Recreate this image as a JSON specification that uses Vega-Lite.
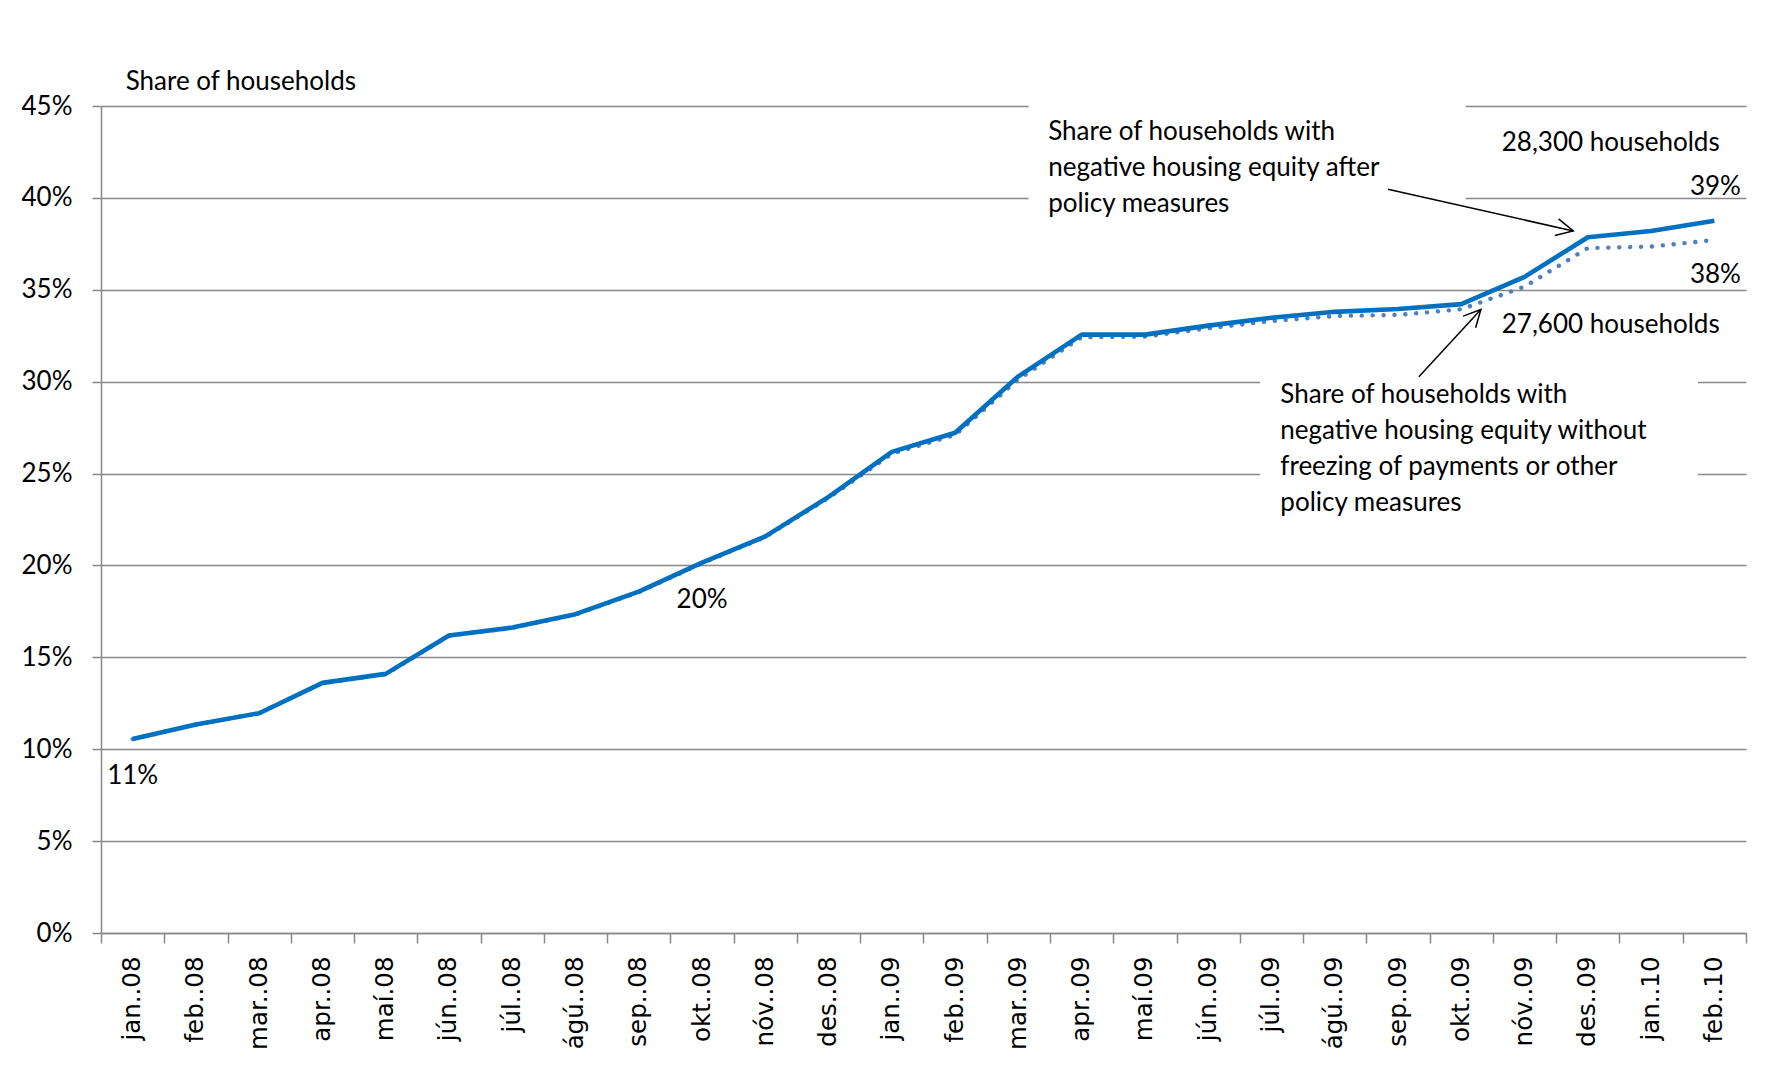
{
  "$schema": "https://vega.github.io/schema/vega-lite/v6.json",
  "width": 1645,
  "height": 827,
  "autosize": {"type": "none"},
  "padding": {"left": 101, "top": 106, "right": 27, "bottom": 142},
  "background": "white",
  "config": {
    "view": {"stroke": null},
    "axisX": {
      "tickBand": "extent",
      "grid": false,
      "domainColor": "#888888",
      "domainWidth": 1.5,
      "tickColor": "#888888",
      "tickWidth": 1.5,
      "tickSize": 10,
      "labelAngle": -90,
      "labelFont": "DejaVu Sans",
      "labelFontSize": 24.5,
      "labelColor": "black",
      "labelPadding": 13
    },
    "axisY": {
      "grid": true,
      "gridColor": "#888888",
      "gridWidth": 1.5,
      "domainColor": "#888888",
      "domainWidth": 1.5,
      "tickColor": "#888888",
      "tickWidth": 1.5,
      "tickSize": 9,
      "labelFont": "Lato",
      "labelFontSize": 26,
      "labelColor": "black",
      "labelPadding": 20
    }
  },
  "datasets": {
    "series": [
      {"month": "jan..08", "after": 10.55, "without": 10.55},
      {"month": "feb..08", "after": 11.34, "without": 11.34},
      {"month": "mar..08", "after": 11.96, "without": 11.96},
      {"month": "apr..08", "after": 13.61, "without": 13.6},
      {"month": "maí.08", "after": 14.10, "without": 14.08},
      {"month": "jún..08", "after": 16.19, "without": 16.17},
      {"month": "júl..08", "after": 16.62, "without": 16.6},
      {"month": "ágú..08", "after": 17.35, "without": 17.33},
      {"month": "sep..08", "after": 18.58, "without": 18.55},
      {"month": "okt..08", "after": 20.15, "without": 20.12},
      {"month": "nóv..08", "after": 21.58, "without": 21.55},
      {"month": "des..08", "after": 23.73, "without": 23.68},
      {"month": "jan..09", "after": 26.18, "without": 26.08},
      {"month": "feb..09", "after": 27.22, "without": 27.1},
      {"month": "mar..09", "after": 30.29, "without": 30.13},
      {"month": "apr..09", "after": 32.56, "without": 32.42},
      {"month": "maí.09", "after": 32.56, "without": 32.45},
      {"month": "jún..09", "after": 33.05, "without": 32.9},
      {"month": "júl..09", "after": 33.48, "without": 33.3},
      {"month": "ágú..09", "after": 33.8, "without": 33.57},
      {"month": "sep..09", "after": 33.95, "without": 33.63},
      {"month": "okt..09", "after": 34.22, "without": 33.94},
      {"month": "nóv..09", "after": 35.7, "without": 35.17},
      {"month": "des..09", "after": 37.86, "without": 37.27},
      {"month": "jan..10", "after": 38.2, "without": 37.35},
      {"month": "feb..10", "after": 38.76, "without": 37.71}
    ],
    "labels": [
      {"g": "title", "month": "jan..08", "value": 46.31, "text": "Share of households"},
      {"g": "c", "month": "jan..08", "value": 8.53, "text": "11%"},
      {"g": "c", "month": "okt..08", "value": 18.12, "text": "20%"},
      {"g": "r", "month": "feb..10", "value": 40.58, "text": "39%"},
      {"g": "r", "month": "feb..10", "value": 35.8, "text": "38%"},
      {"g": "h", "month": "nóv..09", "value": 42.97, "text": "28,300 households"},
      {"g": "h", "month": "nóv..09", "value": 33.08, "text": "27,600 households"},
      {"g": "top", "month": "mar..09", "value": 44.3, "text": "Share of households with\nnegative housing equity after\npolicy measures"},
      {"g": "bot", "month": "júl..09", "value": 29.97, "text": "Share of households with\nnegative housing equity without\nfreezing of payments or other\npolicy measures"}
    ],
    "boxes": [
      {"g": "top", "month": "mar..09", "month2": "okt..09", "value": 37, "value2": 46},
      {"g": "bot", "month": "júl..09", "month2": "feb..10", "value": 22, "value2": 31.5}
    ],
    "arrows": [
      {"g": "top", "month": "sep..09", "value": 40.47, "month2": "des..09", "value2": 38.2},
      {"g": "bot", "month": "sep..09", "value": 30.27, "month2": "okt..09", "value2": 33.93}
    ]
  },
  "layer": [
    {
      "data": {"name": "boxes"},
      "transform": [{"filter": "datum.g === 'top'"}],
      "mark": {"type": "rect", "color": "white"},
      "encoding": {
        "x": {"field": "month", "type": "ordinal", "bandPosition": 0.66, "title": null},
        "x2": {"field": "month2", "bandPosition": 0.57},
        "y": {"field": "value", "type": "quantitative", "title": null},
        "y2": {"field": "value2"}
      }
    },
    {
      "data": {"name": "boxes"},
      "transform": [{"filter": "datum.g === 'bot'"}],
      "mark": {"type": "rect", "color": "white"},
      "encoding": {
        "x": {"field": "month", "type": "ordinal", "bandPosition": 0.32, "title": null},
        "x2": {"field": "month2", "bandPosition": 0.24},
        "y": {"field": "value", "type": "quantitative", "title": null},
        "y2": {"field": "value2"}
      }
    },
    {
      "data": {"name": "series"},
      "mark": {"type": "line", "color": "#4F81BD", "strokeWidth": 4.4, "strokeDash": [0.1, 10.8], "strokeCap": "round"},
      "encoding": {
        "x": {"field": "month", "type": "ordinal", "title": null, "sort": null},
        "y": {"field": "without", "type": "quantitative", "title": null}
      }
    },
    {
      "data": {"name": "series"},
      "mark": {"type": "line", "color": "#0070C0", "strokeWidth": 4.6, "strokeJoin": "round"},
      "encoding": {
        "x": {
          "field": "month",
          "type": "ordinal",
          "title": null,
          "sort": null,
          "scale": {
            "domain": ["jan..08", "feb..08", "mar..08", "apr..08", "maí.08", "jún..08", "júl..08", "ágú..08", "sep..08", "okt..08", "nóv..08", "des..08", "jan..09", "feb..09", "mar..09", "apr..09", "maí.09", "jún..09", "júl..09", "ágú..09", "sep..09", "okt..09", "nóv..09", "des..09", "jan..10", "feb..10"],
            "paddingInner": 0,
            "paddingOuter": 0
          },
          "axis": {"labelFont": "DejaVu Sans", "labelFontSize": 24.5, "labelAngle": -90, "labelPadding": 13}
        },
        "y": {
          "field": "after",
          "type": "quantitative",
          "title": null,
          "scale": {"domain": [0, 45], "nice": false, "zero": true},
          "axis": {"values": [0, 5, 10, 15, 20, 25, 30, 35, 40, 45], "labelExpr": "datum.value + '%'", "labelFont": "Lato"}
        }
      }
    },
    {
      "data": {"name": "arrows"},
      "transform": [{"filter": "datum.g === 'top'"}],
      "mark": {"type": "rule", "color": "black", "strokeWidth": 1.5},
      "encoding": {
        "x": {"field": "month", "type": "ordinal", "bandPosition": 0.34, "title": null},
        "x2": {"field": "month2", "bandPosition": 0.27},
        "y": {"field": "value", "type": "quantitative", "title": null},
        "y2": {"field": "value2"}
      }
    },
    {
      "data": {"name": "arrows"},
      "transform": [{"filter": "datum.g === 'bot'"}],
      "mark": {"type": "rule", "color": "black", "strokeWidth": 1.5},
      "encoding": {
        "x": {"field": "month", "type": "ordinal", "bandPosition": 0.83, "title": null},
        "x2": {"field": "month2", "bandPosition": 0.81},
        "y": {"field": "value", "type": "quantitative", "title": null},
        "y2": {"field": "value2"}
      }
    },
    {
      "data": {"name": "arrows"},
      "transform": [{"filter": "datum.g === 'top'"}],
      "mark": {"type": "point", "shape": "M-1,-0.5L0,0L-1,0.5", "filled": false, "stroke": "black", "strokeWidth": 1.5, "size": 1156, "angle": 12.7, "opacity": 1},
      "encoding": {
        "x": {"field": "month2", "type": "ordinal", "bandPosition": 0.27, "title": null},
        "y": {"field": "value2", "type": "quantitative", "title": null}
      }
    },
    {
      "data": {"name": "arrows"},
      "transform": [{"filter": "datum.g === 'bot'"}],
      "mark": {"type": "point", "shape": "M-1,-0.5L0,0L-1,0.5", "filled": false, "stroke": "black", "strokeWidth": 1.5, "size": 1156, "angle": 312.8, "opacity": 1},
      "encoding": {
        "x": {"field": "month2", "type": "ordinal", "bandPosition": 0.81, "title": null},
        "y": {"field": "value2", "type": "quantitative", "title": null}
      }
    },
    {
      "data": {"name": "labels"},
      "transform": [{"filter": "datum.g === 'title'"}],
      "mark": {"type": "text", "font": "Lato", "fontSize": 26, "color": "black", "align": "left", "baseline": "middle"},
      "encoding": {
        "x": {"field": "month", "type": "ordinal", "bandPosition": 0.39, "title": null},
        "y": {"field": "value", "type": "quantitative", "title": null},
        "text": {"field": "text"}
      }
    },
    {
      "data": {"name": "labels"},
      "transform": [{"filter": "datum.g === 'c'"}],
      "mark": {"type": "text", "font": "Lato", "fontSize": 26, "color": "black", "align": "center", "baseline": "middle"},
      "encoding": {
        "x": {"field": "month", "type": "ordinal", "title": null},
        "y": {"field": "value", "type": "quantitative", "title": null},
        "text": {"field": "text"}
      }
    },
    {
      "data": {"name": "labels"},
      "transform": [{"filter": "datum.g === 'r'"}],
      "mark": {"type": "text", "font": "Lato", "fontSize": 26, "color": "black", "align": "right", "baseline": "middle"},
      "encoding": {
        "x": {"field": "month", "type": "ordinal", "bandPosition": 0.92, "title": null},
        "y": {"field": "value", "type": "quantitative", "title": null},
        "text": {"field": "text"}
      }
    },
    {
      "data": {"name": "labels"},
      "transform": [{"filter": "datum.g === 'h'"}],
      "mark": {"type": "text", "font": "Lato", "fontSize": 26, "color": "black", "align": "left", "baseline": "middle"},
      "encoding": {
        "x": {"field": "month", "type": "ordinal", "bandPosition": 0.14, "title": null},
        "y": {"field": "value", "type": "quantitative", "title": null},
        "text": {"field": "text"}
      }
    },
    {
      "data": {"name": "labels"},
      "transform": [{"filter": "datum.g === 'top'"}],
      "mark": {"type": "text", "font": "Lato", "fontSize": 26, "color": "black", "align": "left", "baseline": "top", "lineBreak": "\n", "lineHeight": 36},
      "encoding": {
        "x": {"field": "month", "type": "ordinal", "bandPosition": 0.97, "title": null},
        "y": {"field": "value", "type": "quantitative", "title": null},
        "text": {"field": "text"}
      }
    },
    {
      "data": {"name": "labels"},
      "transform": [{"filter": "datum.g === 'bot'"}],
      "mark": {"type": "text", "font": "Lato", "fontSize": 26, "color": "black", "align": "left", "baseline": "top", "lineBreak": "\n", "lineHeight": 36},
      "encoding": {
        "x": {"field": "month", "type": "ordinal", "bandPosition": 0.64, "title": null},
        "y": {"field": "value", "type": "quantitative", "title": null},
        "text": {"field": "text"}
      }
    }
  ]
}
